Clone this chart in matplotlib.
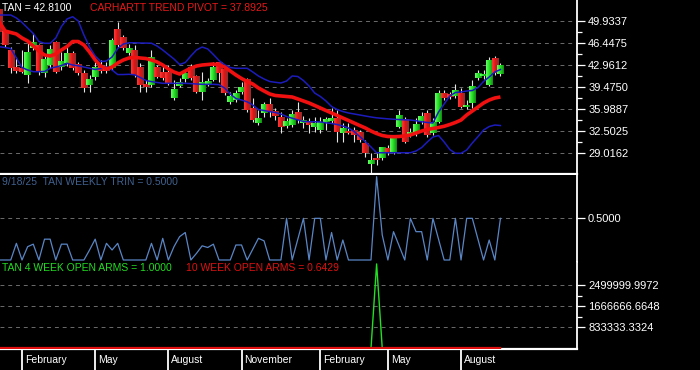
import numpy as np
import pandas as pd
import matplotlib
matplotlib.use('Agg')
import matplotlib.pyplot as plt
from matplotlib.colors import LinearSegmentedColormap
from matplotlib.ticker import FixedLocator, FormatStrFormatter

plt.rcParams['font.family'] = ['Liberation Sans', 'DejaVu Sans']

# weekly bars, Jan 2024 .. Sep 2025
dates = pd.date_range(end='2025-09-19', periods=90, freq='W-FRI')

opens = [51.68, 48.19, 45.34, 42.64, 42.33, 41.38, 45.65, 45.97, 41.69, 42.96,
         46.45, 42.64, 43.28, 44.86, 42.96, 41.69, 39.79, 41.06, 42.80, 42.64,
         42.49, 48.51, 47.24, 44.86, 45.34, 42.64, 39.79, 39.79, 42.49, 41.85,
         41.85, 37.73, 39.63, 40.74, 42.64, 41.06, 38.68, 39.95, 40.59, 43.28,
         42.17, 37.10, 37.42, 38.68, 40.59, 36.15, 33.77, 35.35, 36.62, 35.67,
         34.72, 33.29, 33.45, 35.51, 33.77, 33.93, 33.14, 32.66, 33.93, 34.09,
         34.40, 32.19, 32.50, 32.66, 32.19, 30.60, 27.27, 28.22, 28.22, 29.81,
         29.02, 33.14, 34.25, 31.87, 32.19, 34.09, 35.35, 32.19, 33.93, 38.52,
         38.21, 38.05, 38.52, 36.31, 36.94, 40.90, 41.22, 39.79, 43.91, 41.53]
highs = [51.99, 48.51, 45.81, 44.23, 45.34, 46.45, 48.03, 46.29, 44.39, 46.13,
         46.76, 45.02, 45.81, 45.18, 43.44, 42.17, 41.38, 43.44, 43.75, 43.44,
         47.24, 49.78, 47.72, 46.29, 46.13, 43.28, 40.59, 45.34, 42.96, 42.80,
         42.96, 40.59, 40.90, 42.17, 43.12, 41.38, 41.85, 40.90, 43.44, 43.44,
         42.49, 38.68, 39.00, 40.27, 40.90, 37.73, 35.83, 37.10, 37.73, 36.15,
         35.51, 34.56, 35.83, 37.10, 34.88, 34.56, 34.72, 34.72, 34.72, 36.15,
         35.83, 33.77, 33.77, 33.14, 32.66, 31.08, 29.02, 29.02, 29.97, 30.29,
         31.55, 35.83, 34.72, 32.98, 34.56, 35.51, 35.83, 34.56, 39.00, 39.00,
         38.68, 39.95, 39.32, 37.42, 40.59, 42.17, 42.17, 44.23, 44.39, 43.28]
lows = [47.72, 45.81, 41.69, 41.69, 41.69, 40.11, 45.34, 41.38, 41.06, 42.49,
        41.69, 42.17, 42.80, 42.17, 41.38, 38.68, 38.68, 40.59, 41.69, 41.69,
        42.17, 45.81, 45.34, 44.55, 41.06, 38.68, 38.68, 39.47, 40.90, 40.59,
        39.79, 37.42, 39.47, 40.27, 40.59, 38.52, 37.42, 39.63, 40.43, 40.27,
        38.21, 36.78, 37.10, 38.37, 35.51, 33.93, 33.45, 34.72, 34.72, 34.25,
        32.19, 32.98, 33.14, 33.77, 32.98, 32.19, 32.34, 32.19, 32.66, 33.77,
        30.76, 30.76, 32.03, 30.76, 30.76, 28.38, 25.85, 27.11, 27.91, 28.70,
        28.86, 32.98, 30.60, 31.55, 31.71, 33.61, 31.55, 31.87, 33.77, 37.42,
        37.57, 37.73, 36.15, 35.99, 36.15, 40.59, 40.74, 39.63, 41.38, 41.22]
closes = [48.19, 46.13, 42.49, 42.01, 41.85, 45.02, 46.45, 41.85, 43.75, 45.34,
          41.85, 43.44, 44.86, 42.49, 41.69, 39.32, 40.59, 42.49, 42.01, 42.01,
          46.92, 46.13, 45.65, 45.50, 41.38, 39.79, 39.47, 44.07, 41.06, 40.90,
          40.11, 39.00, 40.11, 41.69, 40.90, 38.68, 40.11, 40.27, 42.64, 41.69,
          38.52, 38.05, 38.52, 39.32, 35.83, 34.25, 34.56, 36.62, 35.51, 34.88,
          33.14, 33.93, 35.04, 34.25, 34.09, 33.45, 33.77, 33.77, 34.25, 34.56,
          32.34, 32.98, 32.19, 31.87, 31.08, 29.02, 27.75, 27.91, 29.81, 29.02,
          31.39, 35.04, 30.76, 32.34, 33.61, 34.88, 31.87, 33.93, 38.52, 37.73,
          37.89, 39.00, 36.31, 36.62, 39.63, 41.69, 41.53, 43.75, 41.69, 42.81]

pivot = [49.78, 48.35, 48.11, 47.87, 47.24, 46.76, 45.97, 45.18, 44.55, 44.39,
         44.70, 45.34, 45.89, 46.68, 46.68, 46.13, 45.02, 43.75, 42.80, 42.33,
         42.64, 43.28, 43.75, 44.07, 44.18, 44.07, 43.99, 43.75, 43.44, 42.96,
         42.33, 41.85, 41.53, 42.01, 42.48, 42.80, 42.96, 43.04, 43.12, 42.96,
         42.64, 42.01, 41.38, 40.82, 40.35, 39.95, 39.32, 38.84, 38.37, 38.13,
         38.05, 37.97, 37.89, 37.58, 37.26, 36.94, 36.55, 36.15, 35.75, 35.36,
         34.96, 34.56, 34.17, 33.77, 33.37, 32.98, 32.50, 32.10, 31.79, 31.63,
         31.60, 31.63, 31.74, 31.87, 32.18, 32.50, 32.74, 32.90, 33.06, 33.25,
         33.53, 33.85, 34.24, 35.04, 35.67, 36.30, 36.94, 37.41, 37.73, 37.8925]
band_upper = [50.88, 50.88, 50.88, 50.41, 49.70, 48.82, 47.95, 46.68, 46.40, 46.40,
              47.24, 49.06, 50.25, 50.61, 49.93, 47.71, 45.81, 44.38, 43.51, 43.59,
              44.23, 45.57, 46.29, 46.49, 46.48, 46.44, 46.43, 46.41, 45.97, 45.34,
              44.62, 43.91, 43.04, 43.35, 44.39, 45.34, 45.81, 45.50, 44.62, 43.67,
              42.99, 42.56, 42.44, 42.44, 42.44, 41.85, 41.22, 40.74, 40.35, 40.22,
              40.11, 40.42, 41.22, 41.14, 40.50, 39.63, 38.52, 37.97, 37.26, 36.38,
              35.91, 35.59, 35.36, 35.20, 35.04, 34.88, 34.72, 34.59, 34.51, 34.43,
              34.37, 34.32, 34.27, 34.24, 34.13, 33.97, 33.85, 33.77, 35.51, 36.78,
              38.05, 38.60, 38.68, 38.84, 38.92, 39.39, 40.35, 41.06, 41.85, 42.25]
band_lower = [45.86, 45.73, 45.57, 44.07, 42.56, 42.17, 41.90, 41.90, 41.93, 42.44,
              42.64, 42.88, 43.23, 42.96, 42.83, 42.64, 42.45, 42.25, 42.40, 42.66,
              42.17, 41.45, 41.45, 41.49, 41.41, 40.98, 40.51, 40.33, 40.19, 40.06,
              40.06, 40.06, 40.06, 40.06, 40.01, 39.95, 39.90, 39.90, 39.90, 39.85,
              39.31, 38.36, 37.65, 37.41, 37.13, 36.62, 35.91, 35.75, 35.57, 35.43,
              35.19, 34.80, 34.53, 34.27, 34.01, 33.97, 33.97, 33.93, 33.80, 33.69,
              33.53, 33.29, 32.98, 32.42, 31.63, 30.80, 29.97, 29.06, 29.06, 29.06,
              29.06, 29.06, 29.06, 29.06, 29.33, 29.88, 30.76, 31.55, 31.79, 30.76,
              29.57, 28.97, 28.97, 29.49, 30.60, 31.60, 32.66, 33.21, 33.45, 33.37]

trin = [0, 0, 0, 0.20, 0, 0.16, 0.19, 0, 0.25, 0.25,
        0, 0.19, 0.19, 0, 0, 0, 0.12, 0.25, 0, 0.20,
        0.12, 0.20, 0, 0, 0, 0, 0, 0.20, 0, 0.26,
        0, 0.16, 0.28, 0.33, 0, 0.08, 0.17, 0.15, 0.19, 0,
        0, 0, 0.18, 0.18, 0, 0.13, 0.26, 0.23, 0, 0,
        0, 0.50, 0, 0.25, 0.50, 0, 0.50, 0.50, 0, 0.33,
        0, 0.24, 0, 0, 0, 0, 0, 1.00, 0.30, 0,
        0.34, 0.17, 0, 0.50, 0.34, 0.34, 0, 0.50, 0.25, 0,
        0, 0.50, 0, 0.50, 0.50, 0.25, 0, 0.24, 0, 0.50]

open_arms_4wk = [1.0] * 67 + [3333333.33] + [1.0] * 22
open_arms_10wk = [0.6429] * 90

price_ticks = [29.0162, 32.5025, 35.9887, 39.4750, 42.9612, 46.4475, 49.9337]
trin_ticks = [0.5000]
arms_ticks = [833333.3324, 1666666.6648, 2499999.9972]
label_months = [2, 5, 8, 11]

GRID = '#6c6c6c'
W = 577 / 700
H = 370

fig = plt.figure(figsize=(7, 3.7), dpi=100, facecolor='black')
ax1 = fig.add_axes([0, 1 - 174 / H, W, 174 / H])
ax2 = fig.add_axes([0, 1 - 262 / H, W, 87 / H])
ax3 = fig.add_axes([0, 1 - 349 / H, W, 87 / H])
ax4 = fig.add_axes([0, 0, W, 20 / H])

x = np.arange(len(closes))
XLIM = (0.09, 102.6)

for ax in (ax1, ax2, ax3):
    ax.set_facecolor('black')
    ax.set_xlim(*XLIM)
    ax.set_xticks([])
    ax.yaxis.tick_right()
    ax.tick_params(axis='y', which='major', colors='white', labelsize=8,
                   length=6, width=0.9, pad=2)
    ax.tick_params(axis='y', which='minor', colors='white', length=3.5, width=0.9)
    for side in ('left', 'top'):
        ax.spines[side].set_visible(False)
    ax.spines['right'].set_color('white')
    ax.spines['right'].set_linewidth(1.3)
    ax.spines['bottom'].set_color('white')
    ax.spines['bottom'].set_linewidth(1.6)
    ax.grid(axis='y', which='major', color=GRID, linestyle=(0, (4, 4)), lw=0.7)
    ax.set_axisbelow(True)
ax2.spines['bottom'].set_visible(False)

# --- price panel: candles ---
green_cm = LinearSegmentedColormap.from_list('g', ['#66ff66', '#22dd22', '#138a13'])
red_cm = LinearSegmentedColormap.from_list('r', ['#ff3838', '#dd1414', '#8e3030'])
grad = np.linspace(0, 1, 32).reshape(1, -1)

ax1.vlines(x, lows, highs, color='#e6e6e6', lw=0.8, zorder=2)
for i in x:
    o, c = opens[i], closes[i]
    lo, hi = min(o, c), max(o, c)
    if hi - lo < 0.15:
        hi = lo + 0.15
    ax1.imshow(grad, cmap=green_cm if c >= o else red_cm,
               extent=(i - 0.57, i + 0.57, lo, hi), aspect='auto',
               interpolation='bilinear', zorder=3)

ax1.plot(x, band_upper, color='#1c1cbe', lw=1.1, zorder=4)
ax1.plot(x, band_lower, color='#1c1cbe', lw=1.1, zorder=4)
ax1.plot(x, pivot, color='#f01010', lw=2.6, zorder=5, solid_capstyle='butt')
ax1.set_xlim(*XLIM)
ax1.set_ylim(25.69, 53.26)
ax1.yaxis.set_major_locator(FixedLocator(price_ticks))
ax1.yaxis.set_minor_locator(FixedLocator(
    [(a + b) / 2 for a, b in zip(price_ticks[:-1], price_ticks[1:])]))
ax1.yaxis.set_major_formatter(FormatStrFormatter('%.4f'))

ax1.text(0.004, 1 - 8 / 174, 'TAN = %.4f' % closes[-1], transform=ax1.transAxes,
         color='white', fontsize=7.5, va='center')
ax1.text(90 / 577, 1 - 8 / 174, 'CARHARTT TREND PIVOT = %.4f' % pivot[-1],
         transform=ax1.transAxes, color='#e81818', fontsize=7.5, va='center')

# --- TRIN panel ---
ax2.plot(x, trin, color='#5a86c6', lw=0.9)
ax2.set_xlim(*XLIM)
ax2.set_ylim(-0.024, 1.02)
ax2.yaxis.set_major_locator(FixedLocator(trin_ticks))
ax2.yaxis.set_major_formatter(FormatStrFormatter('%.4f'))
ax2.text(0.004, 1 - 7 / 87, '9/18/25  TAN WEEKLY TRIN = %.4f' % trin[-1],
         transform=ax2.transAxes, color='#40618f', fontsize=7.5, va='center')

# --- open arms panel ---
ax3.plot(x, open_arms_4wk, color='#22e022', lw=1.0, zorder=3)
ax3.plot(x, open_arms_10wk, color='#e01010', lw=1.6, zorder=4)
ax3.set_xlim(*XLIM)
ax3.set_ylim(-30000, 3410000)
ax3.yaxis.set_major_locator(FixedLocator(arms_ticks))
ax3.yaxis.set_minor_locator(FixedLocator(
    [(a + b) / 2 for a, b in zip(arms_ticks[:-1], arms_ticks[1:])]))
ax3.yaxis.set_major_formatter(FormatStrFormatter('%.4f'))
ax3.text(0.004, 1 - 6 / 87, 'TAN 4 WEEK OPEN ARMS = %.4f' % open_arms_4wk[-1],
         transform=ax3.transAxes, color='#22dd22', fontsize=7.5, va='center')
ax3.text(186 / 577, 1 - 6 / 87, '10 WEEK OPEN ARMS = %.4f' % open_arms_10wk[-1],
         transform=ax3.transAxes, color='#e01010', fontsize=7.5, va='center')

# --- month strip ---
ax4.set_facecolor('black')
ax4.set_xlim(*XLIM)
ax4.set_ylim(0, 1)
ax4.axis('off')
for i in range(1, len(dates)):
    m = dates[i].month
    if m != dates[i - 1].month and m in label_months:
        ax4.axvline(i, color='white', lw=1.3)
        ax4.text(i + 0.55, 0.5, dates[i].strftime('%B'), color='white',
                 fontsize=7.5, va='center', ha='left')

fig.savefig('out.png', dpi=100, facecolor='black')
